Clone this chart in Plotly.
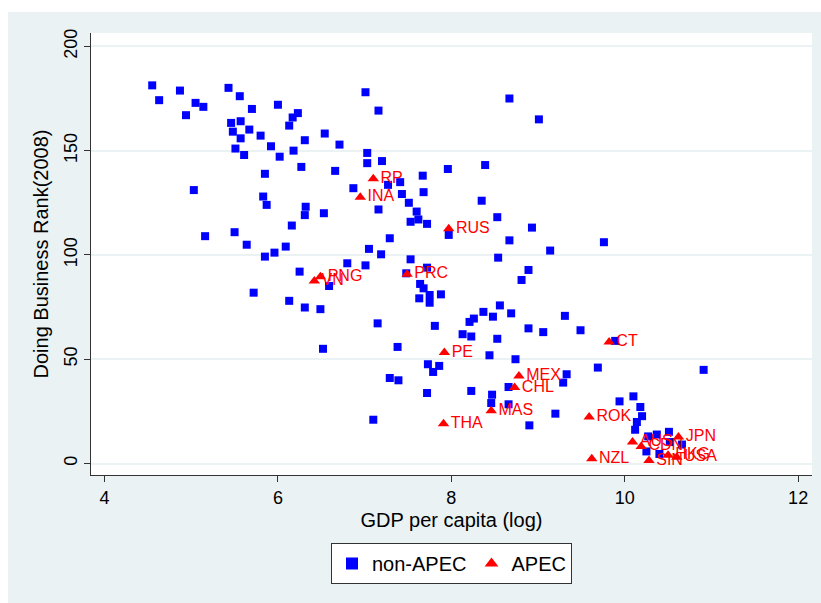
import plotly.graph_objects as go

# ---- data ----
non_apec_x = [4.55, 4.63, 4.87, 5.05, 5.14, 4.94, 5.43, 5.56, 5.70, 6.00, 6.23, 6.17, 6.13, 5.46, 5.57,
              5.48, 5.67, 5.57, 5.80, 5.51, 5.61, 5.92, 6.02, 6.18, 6.31, 6.54, 6.71, 6.27, 6.66, 5.85,
              5.03, 5.83, 5.87, 6.32, 6.31, 6.53, 6.16, 5.16, 5.50, 5.64, 6.09, 5.96, 5.85,
              6.25, 5.72, 6.13, 6.31, 6.49, 6.59, 6.52,
              7.01, 7.16, 8.67, 9.01, 7.03, 7.03, 7.20, 7.96, 8.39, 6.87, 7.27, 7.41, 7.67, 7.68, 7.43,
              7.51, 7.16, 8.35, 7.60, 7.62, 7.53, 7.72, 8.53, 8.93, 8.67, 7.29, 7.05, 7.19, 9.14, 7.97,
              7.53, 8.54, 6.80,
              7.01, 7.72, 7.48, 7.64, 7.68, 7.63, 7.75, 7.75, 7.88, 8.81, 8.37, 8.56, 8.69, 8.48, 8.26, 8.89,
              7.15, 7.81, 7.38, 8.21, 8.53, 8.13, 8.23, 8.89, 8.44, 8.74, 7.73, 7.86, 7.79, 7.29, 7.39,
              7.72, 8.23, 8.47, 8.46, 8.66, 8.66, 7.10, 8.90,
              9.06, 9.49, 9.33, 9.29, 9.69, 9.20,
              9.76, 9.31, 9.89, 10.91, 10.10, 9.94, 10.18, 10.20,
              10.14, 10.12, 10.27, 10.37, 10.51, 10.25, 10.40, 10.52, 10.66]
non_apec_y = [181.3, 174.2, 178.8, 172.9, 171.0, 167.0, 180.1, 176.1, 170.0, 172.0, 168.0, 165.9, 162.0, 163.3, 164.1,
              159.1, 160.1, 155.9, 157.2, 151.0, 147.9, 152.1, 147.1, 150.0, 155.0, 158.2, 152.9, 142.2, 140.3, 138.9,
              131.1, 128.0, 124.0, 123.1, 119.1, 120.0, 114.1, 109.0, 110.9, 104.9, 104.0, 101.1, 99.2,
              92.0, 81.9, 78.0, 74.8, 74.0, 85.1, 55.0,
              178.0, 169.2, 175.0, 165.0, 148.9, 144.0, 145.0, 141.2, 143.1, 132.0, 133.6, 134.9, 138.0, 130.1, 129.2,
              125.0, 121.8, 126.0, 120.8, 117.0, 115.9, 114.9, 118.1, 113.1, 107.0, 108.0, 102.9, 100.3, 102.1, 109.6,
              97.9, 98.7, 96.0,
              95.0, 93.9, 91.2, 86.1, 84.0, 79.2, 80.8, 77.1, 81.1, 88.0, 72.7, 75.8, 72.0, 70.4, 69.5, 92.8,
              67.2, 66.0, 55.9, 67.9, 59.8, 62.0, 60.9, 64.8, 51.9, 50.0, 47.6, 46.8, 43.9, 41.0, 39.9,
              33.8, 34.8, 33.0, 29.0, 36.7, 28.4, 21.0, 18.3,
              63.0, 63.9, 42.8, 38.8, 46.0, 23.9,
              106.1, 70.8, 58.8, 44.9, 32.2, 29.8, 27.1, 22.7,
              19.9, 16.2, 13.0, 13.9, 15.2, 5.8, 4.6, 10.3, 9.1]

apec_labels = ["RP", "INA", "RUS", "PNG", "VN", "PRC", "PE", "MEX", "CHL", "MAS", "THA", "ROK", "CT",
               "NZL", "AUS", "CDN", "SIN", "JPN", "HKG", "USA"]
apec_x = [7.10, 6.95, 7.97, 6.49, 6.42, 7.49, 7.92, 8.78, 8.73, 8.46, 7.91, 9.59, 9.82,
          9.62, 10.09, 10.19, 10.28, 10.62, 10.50, 10.60]
apec_y = [136.5, 127.6, 112.5, 89.6, 87.5, 90.7, 53.2, 42.0, 36.4, 25.3, 19.1, 22.3, 58.3,
          2.3, 10.3, 8.2, 1.4, 12.7, 4.0, 3.0]

x_ticks = [4, 6, 8, 10, 12]
y_ticks = [0, 50, 100, 150, 200]

# ---- figure ----
FONT = "Liberation Sans, Arial, sans-serif"
BG = "#EAF2F3"

fig = go.Figure()
fig.add_trace(go.Scatter(
    x=non_apec_x, y=non_apec_y, mode="markers", name="non-APEC",
    marker=dict(symbol="square", size=8, color="#0000FF", line=dict(width=0))))
fig.add_trace(go.Scatter(
    x=apec_x, y=apec_y, mode="markers+text", name="APEC", text=apec_labels,
    textposition="middle right", textfont=dict(family=FONT, size=16, color="#FF0000"),
    marker=dict(symbol="triangle-up", size=10, color="#FF0000", line=dict(width=0))))

W, H = 821, 603
L, R, T, B = 91, 9, 33, 128
pw, ph = W - L - R, H - T - B


def px(xp):
    return (xp - L) / pw


def py(yp):
    return (H - B - yp) / ph


fig.update_layout(
    width=W, height=H,
    margin=dict(l=L, r=R, t=T, b=B, pad=0),
    paper_bgcolor=BG, plot_bgcolor="white",
    font=dict(family=FONT, size=18, color="#000000"),
    showlegend=True,
    legend=dict(orientation="h", x=0.5, xanchor="center", y=py(543), yanchor="top",
                bgcolor="white", bordercolor="#333333", borderwidth=1,
                font=dict(size=20, family=FONT), itemsizing="constant"),
    xaxis=dict(range=[3.844, 12.16], tickvals=x_ticks, showgrid=False, zeroline=False,
               showline=True, linecolor="#333333", linewidth=1,
               ticks="outside", ticklen=6, tickcolor="#333333",
               tickfont=dict(size=18),
               title=dict(text="GDP per capita (log)", font=dict(size=20), standoff=6)),
    yaxis=dict(range=[-5.5, 206.4], tickvals=y_ticks, showgrid=True, gridcolor=BG, gridwidth=2,
               zeroline=False, showline=True, linecolor="#333333", linewidth=1,
               ticks="outside", ticklen=6, tickcolor="#333333", tickangle=-90,
               tickfont=dict(size=18),
               title=dict(text="Doing Business Rank(2008)", font=dict(size=20), standoff=6)),
    shapes=[
        dict(type="rect", xref="paper", yref="paper", x0=px(-5), x1=px(830), y0=py(12), y1=py(-5),
             fillcolor="white", line=dict(width=0), layer="below"),
        dict(type="rect", xref="paper", yref="paper", x0=px(-5), x1=px(8), y0=py(610), y1=py(-5),
             fillcolor="white", line=dict(width=0), layer="below"),
    ],
)

fig.write_html("out.html")
